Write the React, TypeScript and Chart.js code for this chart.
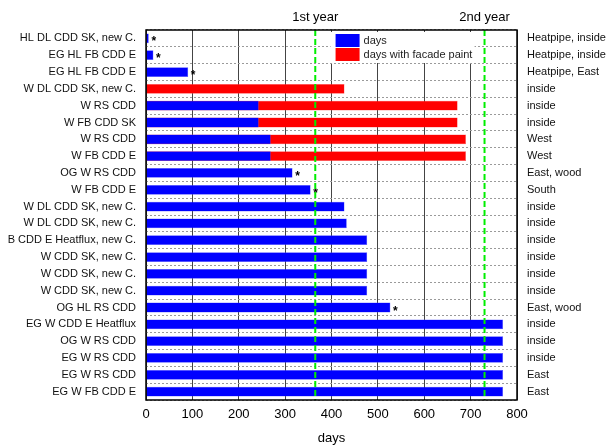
import React, { useEffect, useRef } from "react";
import { Chart, registerables } from "chart.js";

Chart.register(...registerables);

const categories = [
  "HL DL CDD SK, new C.",
  "EG HL FB CDD E",
  "EG HL FB CDD E",
  "W DL CDD SK, new C.",
  "W RS CDD",
  "W FB CDD SK",
  "W RS CDD",
  "W FB CDD E",
  "OG W RS CDD",
  "W FB CDD E",
  "W DL CDD SK, new C.",
  "W DL CDD SK, new C.",
  "B CDD E Heatflux, new C.",
  "W CDD SK, new C.",
  "W CDD SK, new C.",
  "W CDD SK, new C.",
  "OG HL RS CDD",
  "EG W CDD E Heatflux",
  "OG W RS CDD",
  "EG W RS CDD",
  "EG W RS CDD",
  "EG W FB CDD E",
];

const rightLabels = [
  "Heatpipe, inside",
  "Heatpipe, inside",
  "Heatpipe, East",
  "inside",
  "inside",
  "inside",
  "West",
  "West",
  "East, wood",
  "South",
  "inside",
  "inside",
  "inside",
  "inside",
  "inside",
  "inside",
  "East, wood",
  "inside",
  "inside",
  "inside",
  "East",
  "East",
];

const days = [6, 16, 91, 0, 243, 243, 269, 269, 316, 355, 428, 433, 477, 477, 477, 477, 527, 770, 770, 770, 770, 770];

const daysWithPaint = [null, null, null, 428, 672, 672, 690, 690, null, null, null, null, null, null, null, null, null, null, null, null, null, null];

const starred = [true, true, true, false, false, false, false, false, true, true, false, false, false, false, false, false, true, false, false, false, false, false];

const yearMarks = [365, 730];
const yearLabels = ["1st year", "2nd year"];

const xTicksMin = 0;
const xTicksMax = 800;
const xTicksStep = 100;

const FONT = "'Liberation Sans', Arial, Helvetica, sans-serif";

const overlayPlugin = {
  id: "overlay",
  afterDatasetsDraw(chart: any) {
    const ctx = chart.ctx;
    const area = chart.chartArea;
    const xs = chart.scales.x;
    ctx.save();
    // stars
    const meta = chart.getDatasetMeta(0);
    ctx.fillStyle = "#000";
    ctx.font = "bold 12px " + FONT;
    ctx.textAlign = "center";
    ctx.textBaseline = "alphabetic";
    meta.data.forEach((bar: any, i: number) => {
      if (!starred[i]) return;
      ctx.fillText("*", bar.x + 5, bar.y + 7);
    });
    // green year lines
    ctx.strokeStyle = "#00ee00";
    ctx.lineWidth = 2;
    ctx.setLineDash([6, 3]);
    yearMarks.forEach((v) => {
      const x = xs.getPixelForValue(v);
      ctx.beginPath();
      ctx.moveTo(x, area.top);
      ctx.lineTo(x, area.bottom);
      ctx.stroke();
    });
    ctx.setLineDash([]);
    // frame
    ctx.strokeStyle = "#000";
    ctx.lineWidth = 1.5;
    ctx.strokeRect(area.left, area.top, area.right - area.left, area.bottom - area.top);
    // year labels
    ctx.fillStyle = "#000";
    ctx.font = "13px " + FONT;
    ctx.textAlign = "center";
    ctx.textBaseline = "middle";
    yearMarks.forEach((v, i) => {
      ctx.fillText(yearLabels[i], xs.getPixelForValue(v), 17);
    });
    // legend
    const lx = xs.getPixelForValue(398);
    const ly = area.top + 2;
    ctx.fillStyle = "#fff";
    ctx.fillRect(lx, ly, 144, 31);
    const items = [
      { label: chart.data.datasets[0].label, color: chart.data.datasets[0].backgroundColor },
      { label: chart.data.datasets[1].label, color: chart.data.datasets[1].backgroundColor },
    ];
    ctx.font = "11px " + FONT;
    ctx.textAlign = "left";
    items.forEach((it, i) => {
      ctx.fillStyle = it.color;
      ctx.fillRect(lx + 5, ly + 2 + i * 14, 24, 13);
      ctx.fillStyle = "#222";
      ctx.fillText(it.label, lx + 33, ly + 9 + i * 14);
    });
    ctx.restore();
  },
};

export default function App() {
  const ref = useRef<HTMLCanvasElement>(null);
  useEffect(() => {
    if (!ref.current) return;
    const chart = new Chart(ref.current, {
      type: "bar",
      data: {
        labels: categories,
        datasets: [
          {
            label: "days",
            data: days,
            backgroundColor: "#0000ff",
            borderColor: "#5a5aff",
            borderWidth: 0.5,
            grouped: false,
            yAxisID: "y",
          } as any,
          {
            label: "days with facade paint",
            data: daysWithPaint,
            backgroundColor: "#ff0000",
            borderColor: "#ff5a5a",
            borderWidth: 0.5,
            grouped: false,
            yAxisID: "y",
          } as any,
        ],
      },
      options: {
        indexAxis: "y",
        responsive: false,
        animation: false,
        maintainAspectRatio: false,
        layout: { padding: { top: 30, left: 0, right: 0, bottom: 0 } },
        datasets: { bar: { barPercentage: 0.58, categoryPercentage: 1 } },
        plugins: {
          legend: { display: false },
          tooltip: { enabled: false },
        },
        scales: {
          x: {
            type: "linear",
            min: xTicksMin,
            max: xTicksMax,
            ticks: {
              stepSize: xTicksStep,
              color: "#000",
              font: { size: 13, family: FONT },
              padding: 7,
            },
            grid: { color: "#444", lineWidth: 1, drawTicks: false },
            border: { display: false },
            title: {
              display: true,
              text: "days",
              color: "#000",
              font: { size: 13, family: FONT },
              padding: { top: 4, bottom: 0 },
            },
            afterFit: (s: any) => {
              s.height = 46;
            },
          },
          y: {
            type: "category",
            position: "left",
            offset: true,
            ticks: {
              color: "#111",
              font: { size: 11, family: FONT },
              padding: 10,
              autoSkip: false,
            },
            grid: { color: "#9a9a9a", lineWidth: 1, offset: true, drawTicks: false },
            border: { display: false, dash: [2, 2] },
            afterFit: (s: any) => {
              s.width = 146;
            },
          },
          y2: {
            type: "category",
            position: "right",
            labels: rightLabels,
            offset: true,
            ticks: {
              color: "#111",
              font: { size: 11, family: FONT },
              padding: 10,
              autoSkip: false,
            },
            grid: { display: false, drawTicks: false },
            border: { display: false },
            afterFit: (s: any) => {
              s.width = 91;
            },
          },
        } as any,
      },
      plugins: [overlayPlugin],
    });
    return () => chart.destroy();
  }, []);
  return (
    <div style={{ position: "fixed", left: 0, top: 0, width: 608, height: 446, background: "#fff" }}>
      <canvas ref={ref} width={608} height={446} style={{ display: "block" }} />
    </div>
  );
}
